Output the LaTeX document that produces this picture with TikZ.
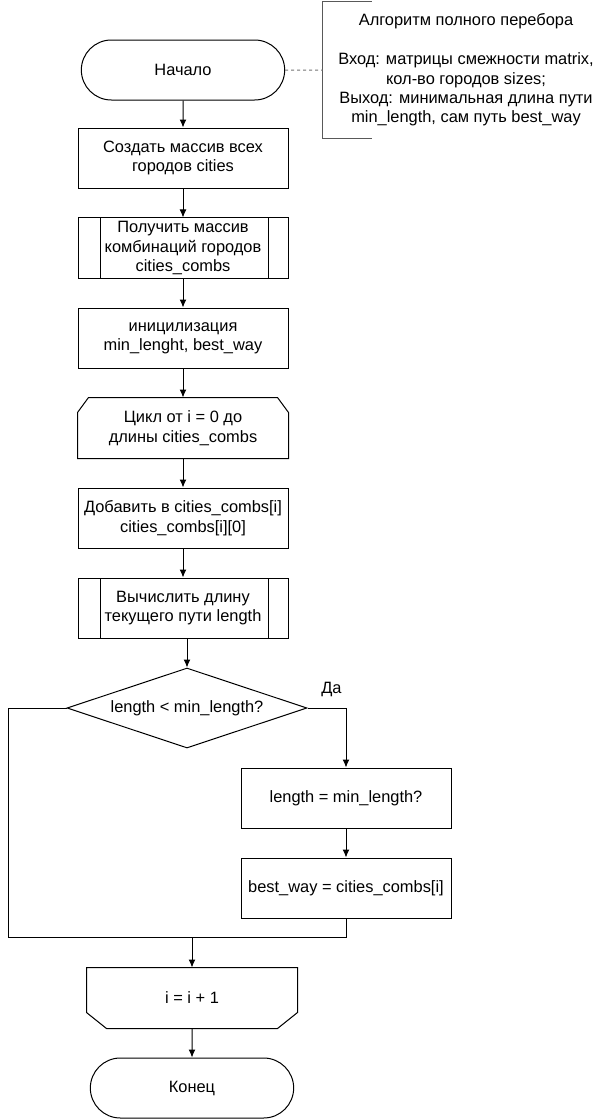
\documentclass[tikz,border=0pt]{standalone}
\usepackage{fontspec}
\setmainfont{Liberation Sans}
\usetikzlibrary{shapes.geometric, shapes.misc, arrows.meta}
\tikzset{
	block/.style     = {draw, fill=white, rectangle, minimum height=60pt, minimum width=210pt, align=center},
	term/.style      = {draw, fill=white, rounded rectangle, minimum height=60pt, minimum width=210pt},
	predef/.style    = {block, path picture={
		\draw ([xshift=22pt]path picture bounding box.north west) -- ([xshift=22pt]path picture bounding box.south west);
		\draw ([xshift=-20pt]path picture bounding box.north east) -- ([xshift=-20pt]path picture bounding box.south east);}},
	loopbegin/.style = {rectangle, minimum height=60pt, minimum width=210pt, align=center, append after command={\pgfextra{
		\draw ([yshift=-15pt]\tikzlastnode.north west) -- ([xshift=11pt]\tikzlastnode.north west) -- ([xshift=-11pt]\tikzlastnode.north east)
			-- ([yshift=-15pt]\tikzlastnode.north east) -- (\tikzlastnode.south east) -- (\tikzlastnode.south west) -- cycle;}}},
	loopfinish/.style = {rectangle, minimum height=60pt, minimum width=210pt, align=center, append after command={\pgfextra{
		\draw (\tikzlastnode.north west) -- (\tikzlastnode.north east) -- ([yshift=16pt]\tikzlastnode.south east)
			-- ([xshift=-20pt]\tikzlastnode.south east) -- ([xshift=20pt]\tikzlastnode.south west) -- ([yshift=16pt]\tikzlastnode.south west) -- cycle;}}},
	decision/.style  = {draw, fill=white, diamond, aspect=3, minimum width=240pt, minimum height=80pt, inner sep=0pt},
	note/.style      = {rectangle, minimum width=286pt, minimum height=136pt, align=center},
	hidden/.style    = {coordinate},
}

\begin{document}
\begin{tikzpicture}[auto, >={Latex[length=8pt, width=7pt]}, x=1pt, y=-1pt, line width=1pt, font=\fontsize{16.4}{19.4}\selectfont]
		\useasboundingbox (0,0) rectangle (604,1119);

		% Main column of the flowchart
		\draw
			node[term] (start) at (183,70) {Начало}
			node[block , below of = start , node distance = 88pt] (cities) {Создать массив всех\\городов cities}
			node[predef, below of = cities, node distance = 90pt] (combs) {Получить массив\\комбинаций городов\\cities\_combs}
			node[block , below of = combs , node distance = 90pt] (init) {иницилизация\\min\_lenght, best\_way}
			node[loopbegin, below of = init, node distance = 90pt] (loopstart) {Цикл от i = 0 до\\длины cities\_combs}
			node[block , below of = loopstart, node distance = 90pt] (append) {Добавить в cities\_combs[i]\\cities\_combs[i][0]}
			node[predef, below of = append, node distance = 90pt] (calc) {Вычислить длину\\текущего пути length}
			node[decision, below of = calc, node distance = 100pt, xshift = 4pt] (cond) {length < min\_length?}
			node[block , below of = cond, node distance = 90pt, xshift = 159pt] (setlen) {length = min\_length?}
			node[block , below of = setlen, node distance = 90pt] (setway) {best\_way = cities\_combs[i]}
			node[loopfinish, below of = cond, node distance = 290pt, xshift = 5pt] (loopend) {i = i + 1}
			node[term  , below of = loopend, node distance = 90pt] (finish) {Конец}
			node[hidden] (leftturn) at (8,937) {}
			node[hidden] (merge) at (loopend.north |- leftturn) {};

		% Comment on the algorithm
		\draw node[note] (note) at (466,70) {Алгоритм полного перебора\\[19.4pt]Вход: матрицы смежности matrix,\\кол-во городов sizes;\\Выход: минимальная длина пути\\min\_length, сам путь best\_way};
		\draw[black!65] ([xshift=49pt]note.north west) -- (note.north west) -- (note.south west) -- ([xshift=49pt]note.south west);
		\draw[dashed, black!55] (start) -- (note.west);

		% Connect everything together
		\draw[->] (start) -- (cities);
		\draw[->] (cities) -- (combs);
		\draw[->] (combs) -- (init);
		\draw[->] (init) -- (loopstart);
		\draw[->] (loopstart) -- (append);
		\draw[->] (append) -- (calc);
		\draw[->] (calc.south -| cond.north) -- (cond);
		\draw[->] (cond.east) -| node[pos=0.31, above=7pt] {Да} (setlen);
		\draw[->] (setlen) -- (setway);
		\draw (cond.west) -| (leftturn) -| (setway.south);
		\draw[->] (merge) -- (loopend);
		\draw[->] (loopend) -- (finish);
	\end{tikzpicture}
\end{document}
